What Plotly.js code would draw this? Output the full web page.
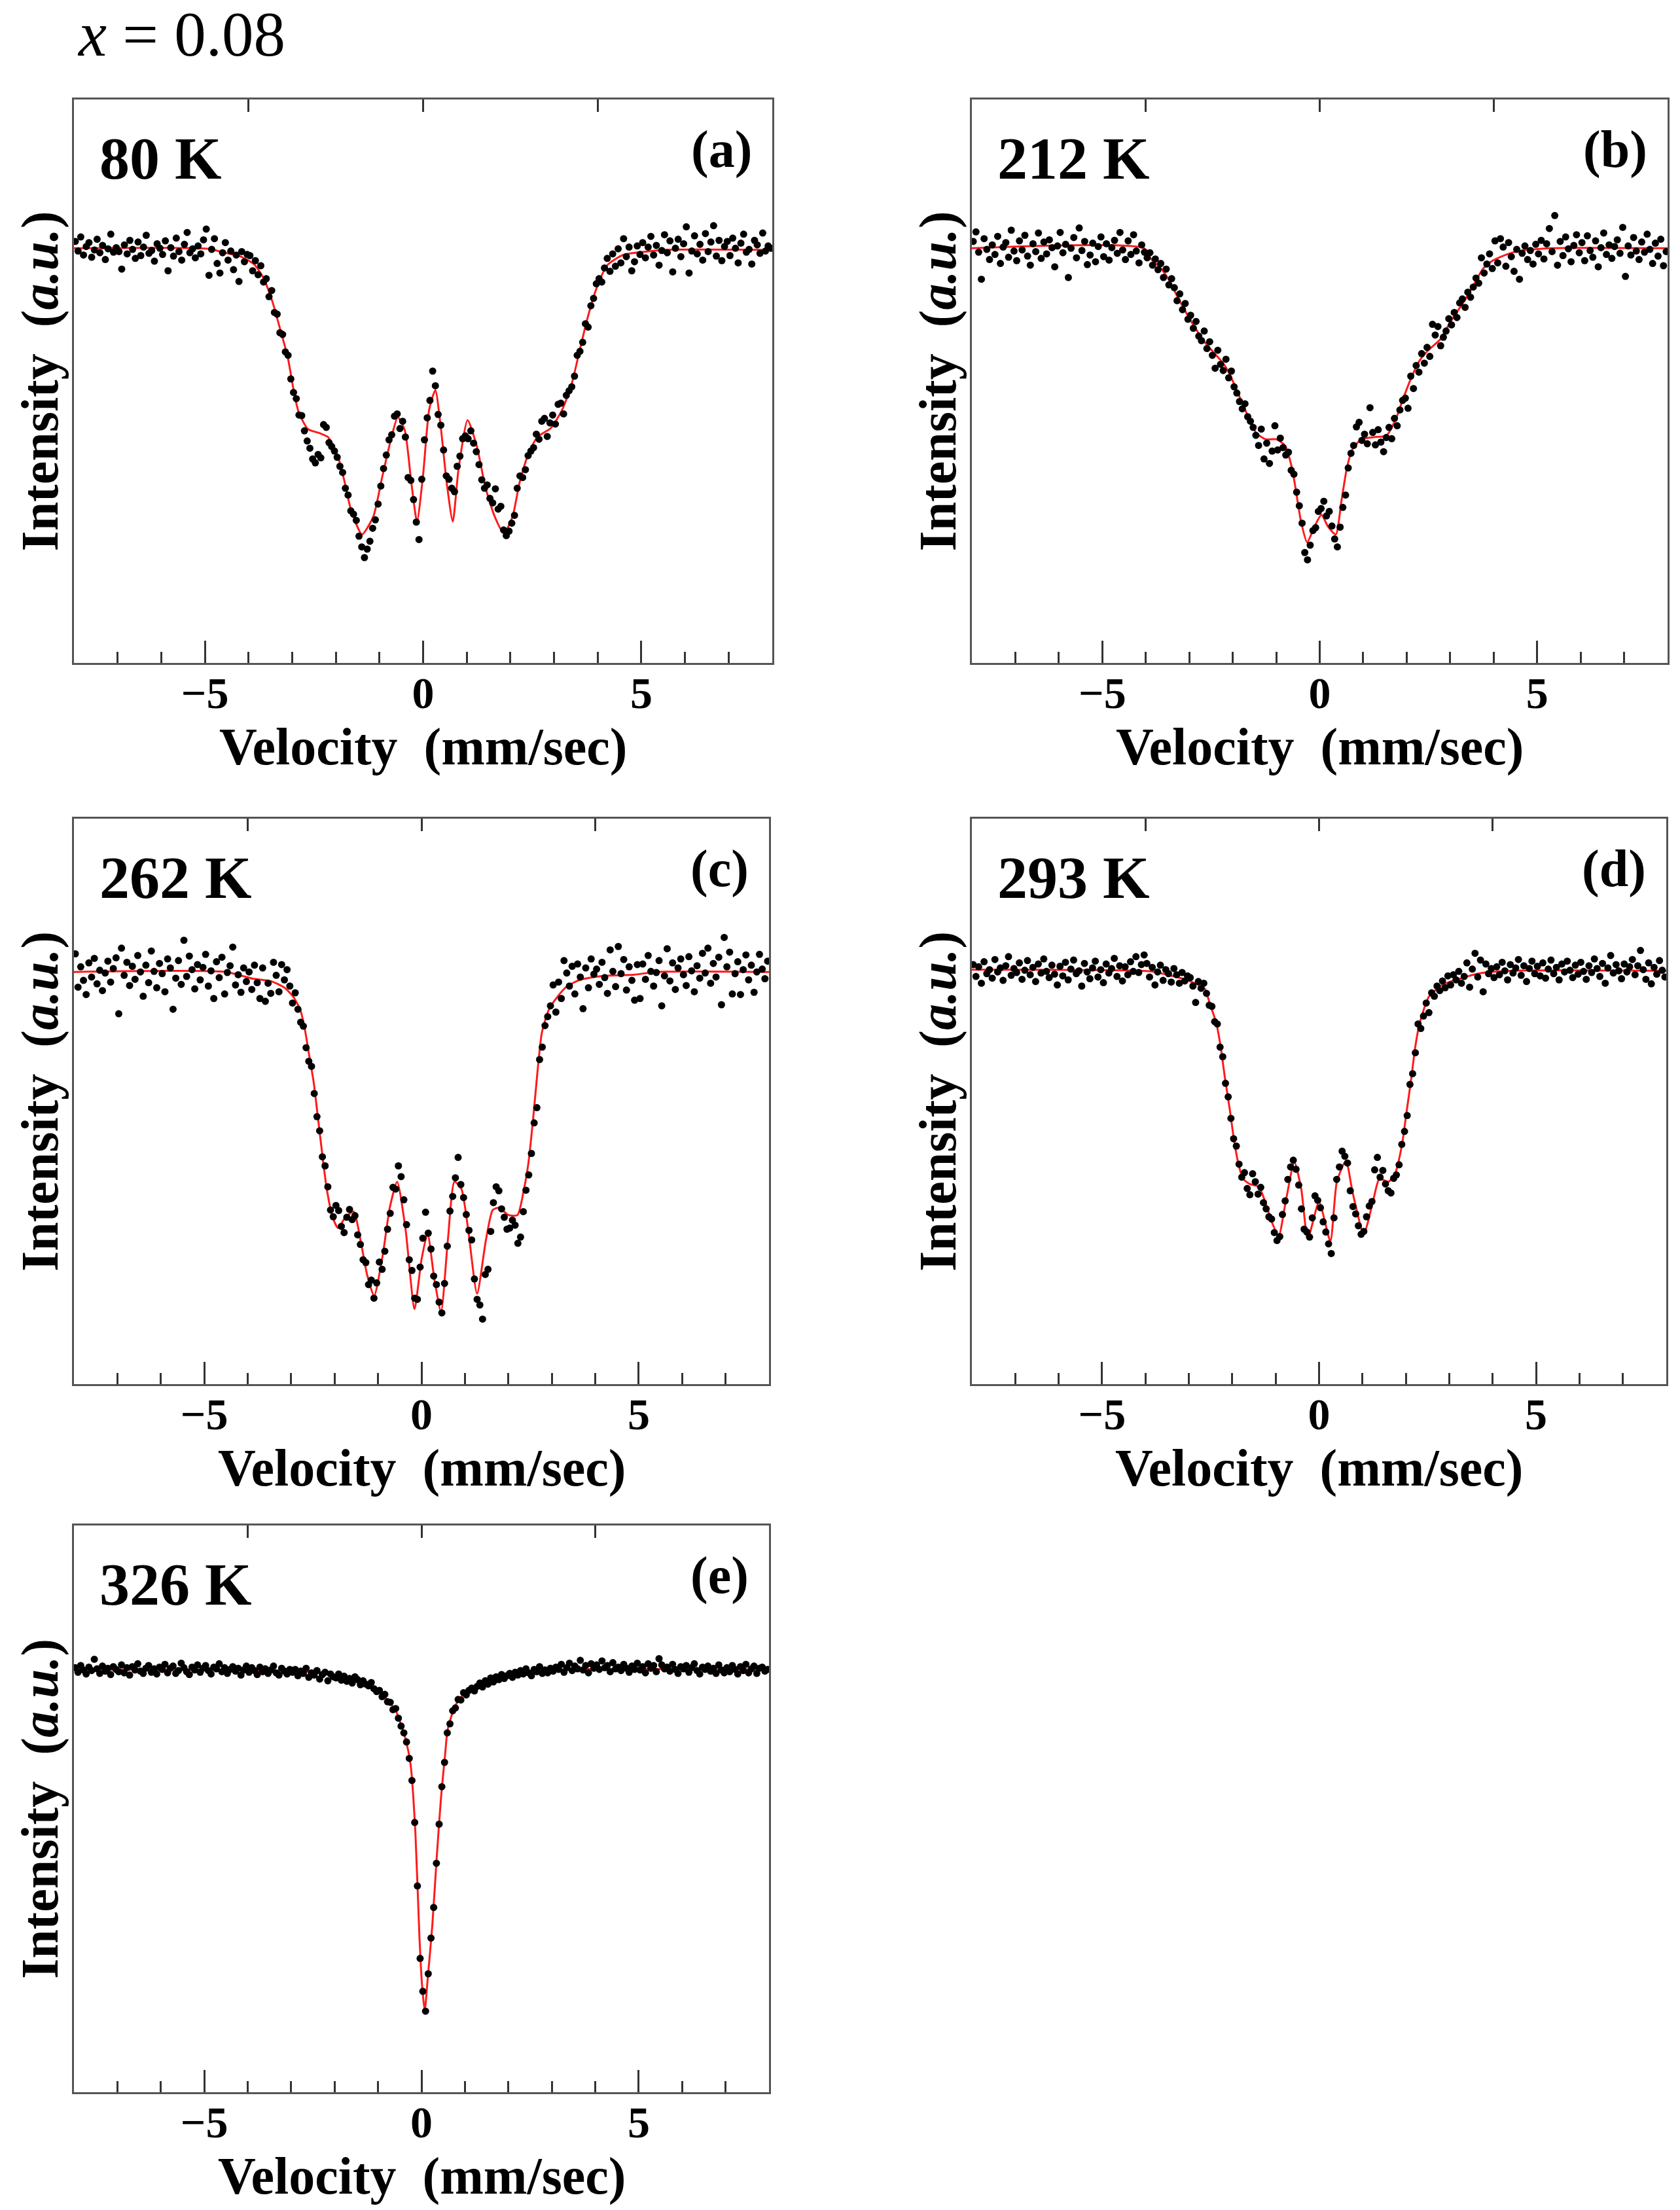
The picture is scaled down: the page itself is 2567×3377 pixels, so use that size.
<!DOCTYPE html>
<html>
<head>
<meta charset="utf-8">
<script src="https://cdn.plot.ly/plotly-3.0.1.min.js"></script>
<style>
html,body{margin:0;padding:0;background:#ffffff;}
#chart{width:2567px;height:3377px;}
</style>
</head>
<body>
<div id="chart"></div>
<script>
// ---- velocity channels (mm/sec), shared by all five spectra ----
const velocity = [
-7.969,-7.906,-7.844,-7.781,-7.719,-7.656,-7.594,-7.531,-7.469,-7.406,-7.344,-7.281,-7.219,-7.156,-7.094,-7.031,
-6.969,-6.906,-6.844,-6.781,-6.719,-6.656,-6.594,-6.531,-6.469,-6.406,-6.344,-6.281,-6.219,-6.156,-6.094,-6.031,
-5.969,-5.906,-5.844,-5.781,-5.719,-5.656,-5.594,-5.531,-5.469,-5.406,-5.344,-5.281,-5.219,-5.156,-5.094,-5.031,
-4.969,-4.906,-4.844,-4.781,-4.719,-4.656,-4.594,-4.531,-4.469,-4.406,-4.344,-4.281,-4.219,-4.156,-4.094,-4.031,
-3.969,-3.906,-3.844,-3.781,-3.719,-3.656,-3.594,-3.531,-3.469,-3.406,-3.344,-3.281,-3.219,-3.156,-3.094,-3.031,
-2.969,-2.906,-2.844,-2.781,-2.719,-2.656,-2.594,-2.531,-2.469,-2.406,-2.344,-2.281,-2.219,-2.156,-2.094,-2.031,
-1.969,-1.906,-1.844,-1.781,-1.719,-1.656,-1.594,-1.531,-1.469,-1.406,-1.344,-1.281,-1.219,-1.156,-1.094,-1.031,
-0.969,-0.906,-0.844,-0.781,-0.719,-0.656,-0.594,-0.531,-0.469,-0.406,-0.344,-0.281,-0.219,-0.156,-0.094,-0.031,
0.031,0.094,0.156,0.219,0.281,0.344,0.406,0.469,0.531,0.594,0.656,0.719,0.781,0.844,0.906,0.969,
1.031,1.094,1.156,1.219,1.281,1.344,1.406,1.469,1.531,1.594,1.656,1.719,1.781,1.844,1.906,1.969,
2.031,2.094,2.156,2.219,2.281,2.344,2.406,2.469,2.531,2.594,2.656,2.719,2.781,2.844,2.906,2.969,
3.031,3.094,3.156,3.219,3.281,3.344,3.406,3.469,3.531,3.594,3.656,3.719,3.781,3.844,3.906,3.969,
4.031,4.094,4.156,4.219,4.281,4.344,4.406,4.469,4.531,4.594,4.656,4.719,4.781,4.844,4.906,4.969,
5.031,5.094,5.156,5.219,5.281,5.344,5.406,5.469,5.531,5.594,5.656,5.719,5.781,5.844,5.906,5.969,
6.031,6.094,6.156,6.219,6.281,6.344,6.406,6.469,6.531,6.594,6.656,6.719,6.781,6.844,6.906,6.969,
7.031,7.094,7.156,7.219,7.281,7.344,7.406,7.469,7.531,7.594,7.656,7.719,7.781,7.844,7.906,7.969
];

// ---- measured intensities (a.u.) ----
const intensity80K = [
74.8,73.1,75.6,72.4,73.9,74.6,72.0,73.3,75.2,72.8,74.1,71.6,73.5,76.1,72.9,73.7,
73.0,69.9,74.2,72.6,75.0,73.4,71.8,74.7,72.3,73.8,75.9,72.7,73.2,71.3,74.4,73.6,
72.5,74.9,69.6,73.7,72.2,75.4,73.0,71.5,74.3,76.4,72.8,73.5,71.9,74.0,72.6,75.1,
77.0,68.8,73.4,75.3,70.9,69.2,72.8,74.6,71.5,73.1,69.8,72.4,67.7,73.0,71.2,72.5,
72.3,69.6,71.4,68.9,70.5,67.6,68.2,65.0,66.1,62.2,61.9,58.6,58.3,55.2,54.6,50.4,
48.0,46.9,44.0,43.9,41.2,39.4,38.1,36.2,35.5,37.0,36.4,42.3,41.8,39.1,38.4,37.6,
36.5,34.9,33.8,31.0,29.8,27.0,26.4,25.3,22.5,20.6,18.7,20.2,21.6,23.9,25.4,28.2,
31.4,34.5,36.9,39.6,40.5,43.8,44.2,41.6,42.9,40.1,32.9,32.4,29.0,25.0,21.9,32.6,
39.6,43.5,46.6,51.8,49.2,44.1,42.2,37.8,33.2,32.6,31.0,30.4,34.9,36.7,39.8,40.3,
39.8,41.2,39.0,37.5,35.2,32.5,31.0,31.6,29.2,28.4,30.9,27.3,27.8,23.6,22.6,23.4,
24.8,26.2,31.0,33.2,32.9,34.3,36.8,37.6,38.2,40.6,39.7,42.9,43.4,40.2,42.6,44.0,
42.4,45.9,46.1,44.2,47.5,48.3,49.0,50.9,54.6,55.3,56.9,60.2,59.6,63.4,64.7,67.3,
68.2,67.6,70.1,71.8,69.5,72.6,70.4,73.5,71.0,75.3,72.1,73.8,69.6,71.2,74.0,72.5,
74.6,71.9,73.8,75.7,72.4,74.1,70.6,73.2,76.0,72.8,74.9,69.4,73.6,75.2,72.1,74.4,
77.4,69.2,73.1,75.8,72.6,74.3,71.5,76.2,73.0,74.7,77.6,72.2,75.0,71.4,73.9,74.8,
72.3,75.4,73.6,71.0,74.5,76.1,72.9,73.4,70.8,75.0,74.2,72.7,76.3,73.1,74.0,73.6
];
const intensity212K = [
74.8,76.5,72.9,68.1,75.3,73.4,71.6,74.2,72.5,75.7,70.9,73.8,74.6,72.0,76.8,73.1,
71.4,74.9,73.3,75.9,72.2,70.6,74.4,73.0,76.3,71.8,74.7,72.6,75.1,73.7,70.3,74.0,
76.4,72.8,74.3,68.4,73.6,75.5,71.9,77.2,73.2,74.8,70.7,72.4,74.5,71.2,73.9,75.6,
72.1,74.4,71.5,73.7,75.0,72.7,76.4,73.3,71.6,74.9,72.5,76.0,73.1,71.0,74.2,72.9,
71.9,72.8,70.6,71.7,69.8,70.9,68.4,69.9,67.1,68.2,66.6,64.3,65.5,62.7,63.8,61.0,
61.7,59.4,60.6,58.0,57.2,58.9,55.8,57.0,54.6,52.3,55.5,53.0,51.9,53.9,50.6,51.8,
49.0,47.9,46.4,45.1,46.0,43.7,42.9,41.8,40.4,38.6,41.5,36.2,39.0,35.4,37.6,42.1,
37.8,39.9,38.2,36.9,37.4,34.2,33.5,30.3,27.9,24.8,19.6,18.3,20.9,23.5,24.0,26.9,
27.4,28.7,26.1,26.9,24.3,22.0,20.6,24.1,27.6,29.8,34.6,37.2,38.6,41.9,42.7,39.5,
40.6,38.9,45.3,40.9,38.7,41.4,39.2,37.5,40.0,41.8,39.8,43.4,42.1,44.9,46.6,47.0,
45.2,50.9,48.7,52.8,51.6,54.9,53.2,56.0,54.4,60.1,58.2,59.7,56.3,57.8,58.9,61.1,
60.0,62.2,61.3,63.9,64.6,63.1,65.8,64.9,66.7,68.3,67.4,71.9,69.2,70.8,72.6,70.0,
74.9,71.0,75.3,73.8,70.4,74.6,72.1,69.5,73.4,68.1,72.7,74.0,71.6,73.2,70.8,74.3,
72.6,75.0,71.7,74.4,77.1,73.0,79.4,70.6,74.8,72.3,75.6,73.5,71.2,74.1,76.0,72.8,
74.6,71.4,75.8,73.2,72.0,74.9,70.3,73.7,76.3,72.5,74.2,71.8,73.9,75.1,72.7,77.3,
68.6,74.0,72.4,75.5,73.1,71.6,74.7,72.9,76.1,73.4,70.9,74.5,72.2,75.2,70.5,73.0
];
const intensity262K = [
76.1,70.2,73.8,71.4,68.9,74.5,72.0,75.3,70.8,73.2,69.6,72.7,74.8,71.1,73.5,75.4,
65.5,77.1,72.3,74.6,70.5,73.9,71.6,75.8,72.9,68.6,74.1,71.0,76.6,73.0,70.1,74.4,
72.6,69.4,75.2,73.6,66.3,71.8,74.9,70.7,78.5,72.1,75.7,73.3,69.9,74.2,71.5,73.7,
76.0,70.4,73.1,68.2,74.7,71.9,75.5,69.0,72.8,74.0,77.3,70.6,72.4,69.3,73.6,71.2,
72.9,69.8,74.1,71.0,68.2,73.6,67.7,70.9,69.1,74.6,72.3,69.4,74.2,71.5,73.3,70.4,
67.4,69.2,66.3,64.0,63.3,59.5,57.1,56.2,51.4,47.3,44.8,40.2,38.6,34.9,30.8,29.6,
31.6,30.7,27.9,26.8,29.5,30.9,29.1,29.8,26.4,24.7,22.0,21.5,17.6,18.4,15.2,17.9,
21.6,20.3,23.5,27.4,30.2,34.8,34.5,38.6,36.7,32.6,28.2,22.0,20.1,15.2,15.0,20.7,
25.8,30.4,26.7,23.9,19.1,17.6,14.5,12.6,17.8,24.4,30.6,33.2,36.5,40.1,35.3,33.0,
30.0,27.2,25.5,18.6,15.0,14.0,11.5,19.4,20.3,27.0,32.1,34.9,34.2,31.0,29.5,27.4,
27.6,29.0,28.1,24.9,26.0,30.5,34.3,37.0,40.8,46.2,48.9,57.4,59.6,63.4,65.0,66.9,
70.6,65.8,71.1,68.2,74.9,72.7,70.4,73.9,69.0,74.3,72.0,66.4,73.6,70.1,75.2,72.5,
73.4,70.7,74.6,71.9,69.1,76.8,73.0,70.3,77.4,72.6,75.1,69.7,73.8,71.4,67.9,74.2,
68.2,74.3,71.6,75.8,73.0,70.4,72.8,74.9,66.9,72.2,77.0,71.3,74.5,69.8,73.6,75.2,
72.4,70.5,75.6,73.1,69.4,74.0,71.8,76.2,72.7,77.1,70.9,74.4,72.0,75.5,67.1,79.0,
73.8,76.4,69.0,72.6,74.7,68.9,73.3,75.9,71.5,74.1,69.3,72.9,76.0,73.4,71.7,74.8
];
const intensity293K = [
74.2,72.1,73.8,70.9,74.7,72.6,73.3,71.8,75.1,72.9,73.6,71.4,74.0,75.6,72.3,73.5,
72.8,74.5,71.6,73.2,74.9,72.4,73.7,71.2,74.3,72.7,75.2,73.0,71.9,74.1,72.5,70.6,
73.9,72.2,74.6,71.5,73.4,75.0,72.6,73.1,70.4,74.4,72.9,71.7,73.6,74.8,72.0,73.3,
71.0,74.3,72.7,73.5,75.3,72.1,74.0,71.3,73.8,72.4,74.7,73.0,75.6,72.8,74.2,75.9,
74.4,72.0,73.7,70.6,72.9,74.1,71.4,73.3,72.6,71.1,73.5,72.4,70.9,72.8,71.3,72.2,
71.9,70.4,67.5,71.2,70.0,70.9,69.1,67.0,66.8,64.1,63.7,59.6,57.9,53.2,50.8,47.0,
43.4,42.1,38.9,36.6,37.4,34.6,33.5,37.2,35.8,33.6,34.8,32.1,31.0,29.6,29.2,26.8,
25.4,26.1,30.0,32.4,36.2,38.4,39.6,38.0,35.2,31.0,27.4,26.9,26.0,29.4,33.3,32.5,
31.2,28.7,26.9,24.8,23.1,29.4,36.2,38.4,41.2,40.3,39.1,34.2,31.4,30.1,28.0,26.5,
27.0,29.6,31.5,32.3,37.9,40.1,36.6,37.8,35.4,34.2,33.8,36.4,37.0,38.8,42.4,44.7,
47.5,53.0,54.9,58.6,63.7,62.9,65.1,67.4,65.7,69.2,68.6,70.4,69.6,71.3,70.1,72.2,
70.6,72.4,71.5,73.0,70.9,72.1,74.5,70.2,73.4,76.2,72.0,75.0,69.4,74.3,72.6,73.5,
71.9,73.8,72.4,74.6,73.1,71.5,74.2,72.7,73.6,75.1,72.3,74.0,71.2,73.5,74.8,72.6,
73.9,72.2,74.5,71.8,73.4,75.0,72.6,73.7,71.5,74.3,72.9,74.8,73.2,71.9,74.1,72.5,
74.6,73.0,71.6,74.0,72.8,75.2,73.5,72.1,74.4,70.9,73.6,75.8,72.7,74.2,73.1,71.7,
74.3,72.9,73.8,75.1,72.4,74.0,76.7,73.3,71.6,74.5,70.8,73.7,72.5,74.9,73.2,72.0
];
const intensity326K = [
74.9,74.1,75.3,74.5,73.8,75.0,74.4,76.4,74.7,73.9,75.2,74.3,74.8,73.7,75.1,74.6,
74.2,75.4,74.0,74.9,73.6,75.1,74.5,75.6,74.3,73.9,74.8,75.3,74.1,74.7,73.8,75.0,
74.6,75.5,74.0,74.8,75.2,73.9,74.4,75.7,74.9,74.2,73.7,75.0,74.5,75.4,74.1,74.8,
75.3,74.4,73.8,75.0,74.7,75.6,74.2,74.9,73.9,74.6,75.1,74.3,74.8,73.6,74.5,75.2,
74.1,74.9,74.4,73.7,75.0,74.2,74.7,73.9,74.5,75.2,74.0,73.6,74.8,74.3,73.8,74.6,
74.1,74.6,73.5,74.3,73.9,74.8,73.2,74.0,73.6,74.4,72.9,73.7,74.1,72.6,73.8,73.3,
73.1,73.8,72.7,73.4,72.5,73.0,72.2,73.3,72.8,71.9,72.6,72.0,71.7,72.3,71.2,70.7,
70.9,69.8,70.2,68.9,68.8,67.5,67.7,66.0,64.6,63.4,61.8,58.9,55.0,47.6,36.4,23.6,
17.8,14.3,20.9,27.2,32.6,40.4,47.3,53.9,58.2,63.4,65.0,67.3,67.8,69.3,69.2,70.5,
70.1,70.9,71.3,70.8,71.6,72.2,71.5,72.6,72.0,73.1,72.4,73.3,72.8,73.7,73.0,73.5,
73.9,73.2,74.1,73.6,74.4,73.8,74.7,74.0,73.5,74.6,74.2,75.1,73.9,74.5,74.0,74.8,
74.3,75.0,74.6,75.5,74.1,74.9,75.7,74.4,75.2,74.7,76.2,74.5,75.3,74.0,75.6,74.8,
75.4,74.6,76.1,74.9,75.3,74.2,75.8,74.7,75.0,74.4,75.5,74.8,74.1,75.2,74.6,75.7,
74.5,75.1,74.0,75.6,74.8,75.3,74.2,76.5,75.4,74.7,75.0,74.3,75.5,74.6,73.9,75.1,
74.7,75.3,74.1,74.9,75.6,74.4,73.8,75.0,74.6,75.2,74.3,74.8,73.9,75.4,74.5,74.0,
74.9,74.2,75.3,74.6,73.8,75.1,74.4,75.5,74.0,74.7,75.2,73.9,74.8,75.0,74.3,74.6
];

// ---- fitted curves (velocity, intensity) ----
const fitVelocity80K = [-8,-4.9,-4.6,-4.2,-3.88,-3.67,-3.46,-3.26,-3.10,-2.95,-2.85,-2.64,-2.38,-2.18,-1.97,-1.81,-1.66,-1.40,-1.14,-0.94,-0.73,-0.58,-0.42,-0.27,-0.14,0,0.14,0.28,0.40,0.54,0.68,0.81,1.02,1.23,1.43,1.64,1.85,2.05,2.21,2.41,2.62,2.93,3.19,3.39,3.55,3.75,3.96,4.22,4.58,4.99,5.5,8];
const fitIntensity80K = [73.6,73.5,72.9,72.2,70.8,68.5,64.3,58.8,54.2,47.7,44.5,41.5,40.8,40.1,37.1,32.5,27.4,22.8,26.0,32.9,39.9,43.6,41.3,32.0,25.1,33.4,45.0,48.4,42.2,32.0,25.1,34.3,43.1,38.5,31.1,26.0,23.0,26.0,32.0,37.1,40.1,41.7,45.0,49.1,54.2,60.7,66.2,70.6,72.4,72.9,73.3,73.3];
const fitVelocity212K = [-8,-4.04,-3.88,-3.68,-3.47,-3.26,-3.06,-2.85,-2.65,-2.44,-2.23,-2.08,-1.92,-1.77,-1.61,-1.46,-1.25,-1.00,-0.79,-0.63,-0.53,-0.43,-0.29,-0.12,0.04,0.19,0.37,0.50,0.63,0.76,0.96,1.27,1.53,1.74,1.89,2.10,2.30,2.51,2.77,3.02,3.33,3.54,3.75,3.96,4.27,4.57,5.3,8];
const fitIntensity212K = [73.6,73.6,71.7,70.3,68.0,64.8,62.0,59.3,57.0,55.1,53.3,51.4,48.6,45.9,43.1,40.8,39.7,39.7,38.5,34.3,29.7,25.1,21.4,24.2,26.3,24.2,22.8,28.8,34.8,38.0,39.7,40.1,40.3,43.1,46.3,50.5,53.7,55.6,57.4,60.7,64.3,67.1,69.9,71.3,72.4,73.1,73.6,73.6];
const fitVelocity262K = [-8,-4.5,-3.88,-3.46,-3.15,-2.95,-2.79,-2.69,-2.59,-2.48,-2.38,-2.28,-2.18,-2.04,-1.92,-1.76,-1.56,-1.40,-1.25,-1.09,-0.89,-0.73,-0.56,-0.37,-0.16,0,0.14,0.30,0.45,0.61,0.76,0.92,1.07,1.28,1.48,1.64,1.79,2.00,2.21,2.36,2.46,2.57,2.67,2.77,2.93,3.13,3.34,3.65,4.17,4.89,5.4,8];
const fitIntensity262K = [72.9,72.9,71.7,71.25,70.1,68.5,66.2,63.0,58.4,53.3,46.9,40.4,34.5,29.4,27.6,29.4,30.5,25.3,19.3,15.6,22.9,31.2,35.8,27.6,13.3,22.0,26.6,18.4,12.8,25.7,35.8,34.5,27.6,16.0,25.3,30.8,31.2,29.9,29.9,34.5,39.0,46.9,55.2,62.1,66.2,68.5,70.3,71.5,72.2,72.4,72.9,72.9];
const fitVelocity293K = [-8,-3.87,-3.50,-3.10,-2.63,-2.53,-2.37,-2.27,-2.17,-2.06,-1.96,-1.86,-1.75,-1.60,-1.39,-1.24,-1.08,-0.93,-0.77,-0.57,-0.41,-0.26,0,0.26,0.41,0.62,0.77,1.03,1.24,1.39,1.60,1.75,1.91,2.01,2.12,2.22,2.32,2.53,2.84,3.25,3.66,4.39,8];
const fitIntensity293K = [73.3,73.0,72.4,71.6,69.9,67.6,63.9,59.8,54.2,48.7,43.2,39.0,36.3,35.4,34.9,32.2,28.5,26.2,32.2,39.3,34.5,25.7,32.2,25.3,35.8,39.5,34.0,26.6,32.2,36.3,35.8,37.2,42.3,47.8,53.8,59.8,63.9,68.5,70.6,71.7,72.6,73.1,73.1];
const fitVelocity326K = [-8,-2.64,-1.81,-1.30,-0.99,-0.78,-0.58,-0.37,-0.25,-0.14,-0.05,0.01,0.075,0.14,0.25,0.35,0.45,0.55,0.60,0.77,0.97,1.28,1.69,2.31,3.3,8];
const fitIntensity326K = [74.6,74.2,73.3,72.3,70.7,69.2,67.1,62.4,57.8,45.8,28.0,19.2,14.4,19.7,29.5,41.3,52.0,60.1,63.9,68.1,70.2,71.5,73.0,74.1,74.6,74.6];

// ---- labels ----
const temperatureLabels = ['80 K', '212 K', '262 K', '293 K', '326 K'];
const panelLabels = ['(a)', '(b)', '(c)', '(d)', '(e)'];
const bottomTickValues = [-5, 0, 5];
const topTickValues = [-4, 0, 4];
const figureTitle = '<i>x</i> = 0.08';
const xTitle = 'Velocity\u00a0 (mm/sec)';
const yTitle = 'Intensity\u00a0 (<i>a.u.</i>)';

// ---- layout geometry (pixels) ----
const W = 2567, H = 3377;
const frames = [
  {l: 113,  r: 1180, t: 152,  b: 1013},
  {l: 1485, r: 2548, t: 152,  b: 1013},
  {l: 113,  r: 1175, t: 1251, b: 2115},
  {l: 1485, r: 2546, t: 1251, b: 2115},
  {l: 113,  r: 1175, t: 2331, b: 3197}
];
const fx = p => p / W;
const fy = p => 1 - p / H;
const SERIF = 'Liberation Serif';
const FRAME = '#555555';
const TICK = '#333333';

const spectra = [
  [intensity80K,  fitVelocity80K,  fitIntensity80K],
  [intensity212K, fitVelocity212K, fitIntensity212K],
  [intensity262K, fitVelocity262K, fitIntensity262K],
  [intensity293K, fitVelocity293K, fitIntensity293K],
  [intensity326K, fitVelocity326K, fitIntensity326K]
];

const traces = [];
const layout = {
  width: W, height: H,
  margin: {l: 0, r: 0, t: 0, b: 0},
  paper_bgcolor: '#ffffff', plot_bgcolor: '#ffffff',
  showlegend: false,
  font: {family: SERIF, color: '#000000'},
  annotations: []
};

spectra.forEach((s, i) => {
  const n = i + 1;
  const xa = n === 1 ? 'x' : 'x' + n;
  const ya = n === 1 ? 'y' : 'y' + n;
  const xk = n === 1 ? 'xaxis' : 'xaxis' + n;
  const yk = n === 1 ? 'yaxis' : 'yaxis' + n;
  const topN = n + 5;
  const f = frames[i];

  traces.push({
    type: 'scatter', mode: 'lines', x: s[1], y: s[2], xaxis: xa, yaxis: ya,
    line: {color: '#ff1a1a', width: 3, shape: 'spline', smoothing: 0.6},
    hoverinfo: 'skip'
  });
  traces.push({
    type: 'scatter', mode: 'markers', x: velocity, y: s[0], xaxis: xa, yaxis: ya,
    marker: {color: '#000000', size: 11, line: {width: 0}},
    hoverinfo: 'skip'
  });
  traces.push({
    type: 'scatter', mode: 'markers', x: [], y: [], xaxis: 'x' + topN, yaxis: ya,
    hoverinfo: 'skip'
  });

  layout[xk] = {
    domain: [fx(f.l), fx(f.r)], anchor: ya, range: [-8, 8],
    showline: true, mirror: true, linecolor: FRAME, linewidth: 3,
    ticks: 'inside', tickmode: 'array', tickvals: bottomTickValues,
    ticklen: 34, tickwidth: 3, tickcolor: TICK,
    minor: {tickmode: 'linear', tick0: 0, dtick: 1, ticks: 'inside', ticklen: 17, tickwidth: 3, tickcolor: TICK, showgrid: false},
    showgrid: false, zeroline: false,
    tickfont: {family: SERIF, size: 68, color: '#000000', weight: 'bold'},
    ticklabelstandoff: -16,
    fixedrange: true
  };
  layout['xaxis' + topN] = {
    domain: [fx(f.l), fx(f.r)], anchor: ya, overlaying: xa, side: 'top', range: [-8, 8],
    showline: false, ticks: 'inside', tickmode: 'array', tickvals: topTickValues,
    ticklen: 19, tickwidth: 3, tickcolor: TICK, showticklabels: false,
    showgrid: false, zeroline: false, fixedrange: true
  };
  layout[yk] = {
    domain: [fy(f.b), fy(f.t)], anchor: xa, range: [0, 100],
    showline: true, mirror: true, linecolor: FRAME, linewidth: 3,
    ticks: '', showticklabels: false, showgrid: false, zeroline: false, fixedrange: true
  };

  layout.annotations.push({
    xref: 'paper', yref: 'paper', x: fx(f.l + 37), y: fy(f.t + 90),
    xanchor: 'left', yanchor: 'middle', showarrow: false,
    text: temperatureLabels[i],
    font: {family: SERIF, size: 92, color: '#000000', weight: 'bold'}
  });
  layout.annotations.push({
    xref: 'paper', yref: 'paper', x: fx(f.r - 29), y: fy(f.t + 76),
    xanchor: 'right', yanchor: 'middle', showarrow: false,
    text: panelLabels[i],
    font: {family: SERIF, size: 80, color: '#000000', weight: 'bold'}
  });
  layout.annotations.push({
    xref: 'paper', yref: 'paper', x: fx((f.l + f.r) / 2), y: fy(f.b + 128),
    xanchor: 'center', yanchor: 'middle', showarrow: false,
    text: xTitle,
    font: {family: SERIF, size: 80, color: '#000000', weight: 'bold'}
  });
  layout.annotations.push({
    xref: 'paper', yref: 'paper', x: fx(f.l - 52), y: fy((f.t + f.b) / 2),
    xanchor: 'center', yanchor: 'middle', showarrow: false, textangle: -90,
    text: yTitle,
    font: {family: SERIF, size: 80, color: '#000000', weight: 'bold'}
  });
});

layout.annotations.push({
  xref: 'paper', yref: 'paper', x: fx(116), y: fy(53),
  xanchor: 'left', yanchor: 'middle', showarrow: false,
  text: figureTitle,
  font: {family: SERIF, size: 97, color: '#000000'}
});

Plotly.newPlot('chart', traces, layout, {displayModeBar: false, staticPlot: true});
</script>
</body>
</html>
